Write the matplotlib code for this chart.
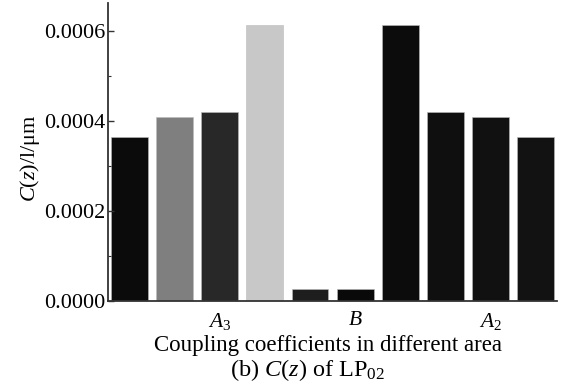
import matplotlib
matplotlib.use("Agg")
import matplotlib.pyplot as plt
from matplotlib.ticker import MultipleLocator, FormatStrFormatter

plt.rcParams['font.family'] = ['Liberation Serif', 'DejaVu Serif']
plt.rcParams['mathtext.fontset'] = 'custom'
plt.rcParams['mathtext.rm'] = 'Liberation Serif'
plt.rcParams['mathtext.it'] = 'Liberation Serif:italic'

# coupling coefficient per area
values = [0.000364, 0.000409, 0.000420, 0.000613, 0.0000267,
          0.0000267, 0.000613, 0.000420, 0.000409, 0.000364]
colors = ['#0b0b0b', '#7f7f7f', '#282828', '#c8c8c8', '#1e1e1e',
          '#090909', '#0c0c0c', '#0f0f0f', '#111111', '#121212']
tick_pos = [2, 5, 8]
tick_labels = ['$A_3$', '$B$', '$A_2$']

fig = plt.figure(figsize=(5.61, 3.85), dpi=100)
ax = fig.add_axes([0.1925, 0.218, 0.8005, 0.774])

x = range(len(values))
ax.bar(x, values, width=0.82, color=colors, edgecolor='#bbbbbb', linewidth=0.4)

ax.set_xlim(-0.48, 9.48)
ax.set_ylim(0, 0.000662)
ax.yaxis.set_major_locator(MultipleLocator(0.0002))
ax.yaxis.set_minor_locator(MultipleLocator(0.0001))
ax.yaxis.set_major_formatter(FormatStrFormatter('%.4f'))
ax.set_xticks(tick_pos)
ax.set_xticklabels(tick_labels)

for s in ['top', 'right']:
    ax.spines[s].set_visible(False)
for s in ['left', 'bottom']:
    ax.spines[s].set_color('#333333')
    ax.spines[s].set_linewidth(1.3)

ax.tick_params(axis='y', which='major', direction='in', length=4, width=1,
               labelsize=16, pad=2, color='#333333')
ax.tick_params(axis='y', which='minor', direction='in', length=2.5, width=0.8,
               color='#333333')
ax.tick_params(axis='x', length=0, labelsize=15.5, pad=7)

ax.set_ylabel('$C(z)$/l/μm', fontsize=16)
ax.yaxis.set_label_coords(-0.147, 0.48)
fig.text(0.585, 0.103, 'Coupling coefficients in different area', ha='center',
         va='center', fontsize=16.5)
fig.text(0.548, 0.040, '(b) $C(z)$ of LP$_{02}$', ha='center', va='center',
         fontsize=17.5)

fig.savefig('out.png', dpi=100)
